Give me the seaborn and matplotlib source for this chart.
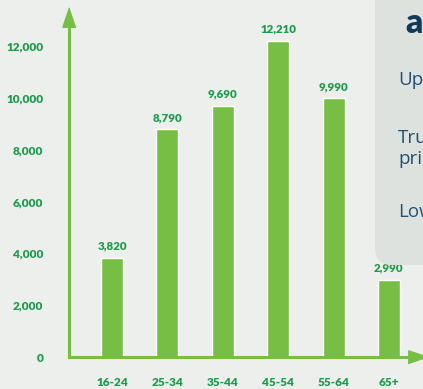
import matplotlib
matplotlib.use("Agg")
import matplotlib.pyplot as plt
from matplotlib.patches import FancyBboxPatch
import seaborn as sns
import pandas as pd

# ---- data ----
age_groups = ["16-24", "25-34", "35-44", "45-54", "55-64", "65+"]
counts = [3820, 8790, 9690, 12210, 9990, 2990]
y_major = [0, 2000, 4000, 6000, 8000, 10000, 12000]
y_minor = [1000, 3000, 5000, 7000, 9000, 11000]

BG = "#EDEFEC"
PANEL = "#DEE2DE"
BAR = "#76BF44"
LABEL = "#1D9A4C"
NAVY = "#1F4F73"

sns.set_theme(style="white")
plt.rcParams["font.family"] = ["Lato", "DejaVu Sans"]

W, H = 423, 389
fig = plt.figure(figsize=(W / 100, H / 100), dpi=100)
fig.patch.set_facecolor(BG)

# right-side panel (partially visible)
panel = FancyBboxPatch((375 / W, (H - 265) / H), 100 / W, 300 / H,
                       boxstyle="round,pad=0,rounding_size=0.04",
                       transform=fig.transFigure, facecolor=PANEL,
                       edgecolor="none", zorder=0, mutation_aspect=W / H)
fig.patches.append(panel)
fig.text(405 / W, 1 - 33 / H, "a", fontsize=24, fontweight="heavy", color="#0E3A5C",
         va="baseline", ha="left")
side_font = dict(fontsize=13.5, color=NAVY, va="baseline", ha="left",
                 family=["Open Sans", "DejaVu Sans"])
fig.text(398 / W, 1 - 85 / H, "Up", **side_font)
fig.text(398 / W, 1 - 143 / H, "Tru", **side_font)
fig.text(398 / W, 1 - 164 / H, "pri", **side_font)
fig.text(398 / W, 1 - 217 / H, "Low", **side_font)

# axes: left spine at x=69px, baseline at y=357px
ax_left, ax_right = 69 / W, 418 / W
ax_bottom, ax_top = (H - 357) / H, (H - 17) / H
ax = fig.add_axes([ax_left, ax_bottom, ax_right - ax_left, ax_top - ax_bottom])
ax.set_facecolor("none")

df = pd.DataFrame({"age": age_groups, "count": counts})
sns.barplot(data=df, x="age", y="count", color=BAR, width=0.4, saturation=1,
            ax=ax, zorder=2)

# scales
px_per_x = 55.4
x_left = (69 - 112) / px_per_x
x_right = (418 - 112) / px_per_x
ax.set_xlim(x_left, x_right)
ax.set_ylim(0, (357 - 17) / 25.9 * 1000)

# value labels
for i, v in enumerate(counts):
    ax.annotate(f"{v:,}", (i, v), xytext=(0, 4.5), textcoords="offset points",
                ha="center", va="bottom", fontsize=8.3, fontweight="heavy",
                color=LABEL, zorder=5)

# spines
for s in ["top", "right"]:
    ax.spines[s].set_visible(False)
for s in ["left", "bottom"]:
    ax.spines[s].set_color(BAR)
    ax.spines[s].set_linewidth(2.2)
    ax.spines[s].set_zorder(3)

# ticks
ax.set_yticks(y_major)
ax.set_yticklabels(["0" if t == 0 else f"{t:,}" for t in y_major])
ax.set_yticks(y_minor, minor=True)
ax.set_xticks(range(len(age_groups)))
ax.set_xticklabels(age_groups)
x_minor = [x_left + 0.01] + [i + 0.5 for i in range(-1, len(age_groups) - 1)]
ax.set_xticks(x_minor, minor=True)
ax.tick_params(axis="both", which="both", direction="out", length=7.5, width=1.8,
               color=BAR)
ax.tick_params(axis="y", which="major", pad=11, labelsize=8.5, labelcolor=LABEL)
ax.tick_params(axis="x", which="major", pad=7, labelsize=8.5, labelcolor=LABEL)
for lab in ax.get_xticklabels() + ax.get_yticklabels():
    lab.set_fontweight("heavy")
ax.set_xlabel("")
ax.set_ylabel("")

# arrow heads at the ends of the axes
up_tri = [(0, 0.5), (-0.34, -0.5), (0.34, -0.5)]
right_tri = [(0.5, 0), (-0.5, 0.34), (-0.5, -0.34)]
ax.plot(0, 1, marker=up_tri, ms=14, color=BAR, transform=ax.transAxes,
        clip_on=False, zorder=4)
ax.plot(1, 0, marker=right_tri, ms=14, color=BAR, transform=ax.transAxes,
        clip_on=False, zorder=4)

fig.savefig("out.png", dpi=100, facecolor=BG)
